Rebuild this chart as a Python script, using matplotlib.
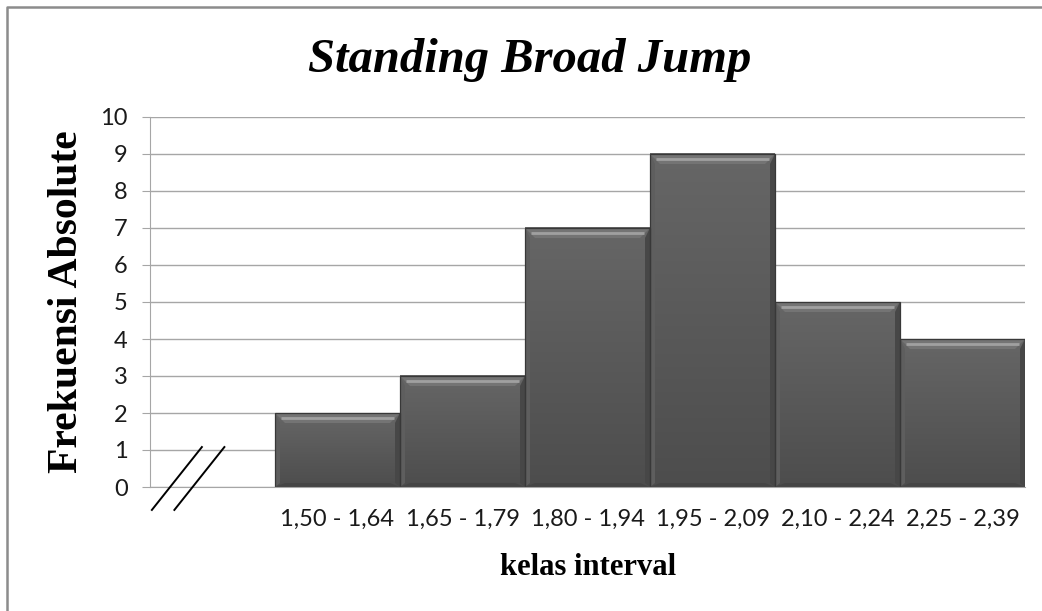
import numpy as np
import matplotlib.pyplot as plt
from matplotlib.patches import Polygon, Rectangle
from matplotlib.lines import Line2D
from matplotlib.colors import LinearSegmentedColormap

# data
intervals = ['1,50 - 1,64', '1,65 - 1,79', '1,80 - 1,94',
             '1,95 - 2,09', '2,10 - 2,24', '2,25 - 2,39']
frekuensi = [2, 3, 7, 9, 5, 4]
y_ticks = list(range(0, 11))

W, H = 1042, 611
fig = plt.figure(figsize=(W / 100, H / 100), dpi=100)
ax = fig.add_axes([150 / W, 124 / H, 875 / W, 370 / H])

pos = np.arange(1, len(intervals) + 1)
ax.set_xlim(-0.5, len(intervals) + 0.5)
ax.set_ylim(0, 10)

# pixel -> data units (for the bevel)
px_x = (len(intervals) + 1) / 875
px_y = 10 / 370
bev = 10

bars = ax.bar(pos, frekuensi, width=1.0, color='#5a5a5a', linewidth=0, zorder=2)

face = LinearSegmentedColormap.from_list('face', ['#4d4d4d', '#666666'])
grad = np.linspace(0, 1, 100).reshape(-1, 1)
for b in bars:
    x0, w, h = b.get_x(), b.get_width(), b.get_height()
    x1 = x0 + w
    dx, dy = bev * px_x, bev * px_y
    ax.imshow(grad, extent=(x0, x1, 0, h), origin='lower', aspect='auto',
              cmap=face, zorder=2.1, interpolation='bilinear')
    # bevel sides
    ax.add_patch(Polygon([(x0, h), (x1, h), (x1 - dx, h - dy), (x0 + dx, h - dy)],
                         closed=True, color='#747474', lw=0, zorder=2.2))
    ax.add_patch(Polygon([(x0, 0), (x1, 0), (x1 - dx, dy * 0.4), (x0 + dx, dy * 0.4)],
                         closed=True, color='#454545', lw=0, zorder=2.2))
    ax.add_patch(Polygon([(x0, 0), (x0, h), (x0 + dx * 0.5, h - dy), (x0 + dx * 0.5, dy * 0.4)],
                         closed=True, color='#5e5e5e', lw=0, zorder=2.2))
    ax.add_patch(Polygon([(x1, 0), (x1, h), (x1 - dx * 0.5, h - dy), (x1 - dx * 0.5, dy * 0.4)],
                         closed=True, color='#474747', lw=0, zorder=2.2))
    ax.plot([x0 + dx * 0.6, x1 - dx * 0.6], [h - dy * 0.5, h - dy * 0.5],
            color='#a0a0a0', lw=2.0, zorder=2.25, solid_capstyle='butt')
    ax.add_patch(Rectangle((x0, 0), w, h, fill=False, ec='#383838', lw=0.9, zorder=2.3))

# grid and axes
ax.set_yticks(y_ticks)
ax.set_xticks(pos)
ax.set_xticklabels(intervals, fontfamily='Lato', fontsize=17)
ax.set_yticklabels([str(t) for t in y_ticks], fontfamily='Lato', fontsize=17)
ax.yaxis.grid(True, color='#a6a6a6', lw=1)
ax.set_axisbelow(True)
for s in ['top', 'right']:
    ax.spines[s].set_visible(False)
ax.spines['left'].set_color('#a6a6a6')
ax.spines['bottom'].set_color('#a6a6a6')
ax.tick_params(axis='y', length=6, color='#a6a6a6', pad=10, labelcolor='#1a1a1a')
ax.tick_params(axis='x', length=0, pad=16, labelcolor='#1a1a1a')

# axis break mark in the empty first slot
for off in [0.0, 0.18]:
    ax.plot([-0.485 + off, -0.085 + off], [-0.62, 1.08], color='black', lw=1.4,
            clip_on=False, zorder=3)

# texts
fig.text(530 / W, 1 - 72 / H, 'Standing Broad Jump', ha='center', va='baseline',
         fontsize=35, fontfamily='Liberation Serif', fontweight='bold', fontstyle='italic')
fig.text(588 / W, 1 - 575 / H, 'kelas interval', ha='center', va='baseline',
         fontsize=22, fontfamily='Liberation Serif', fontweight='bold')
fig.text(67 / W, 1 - 302 / H, 'Frekuensi Absolute', ha='center', va='center', rotation=90,
         fontsize=30, fontfamily='Liberation Serif', fontweight='bold')

# chart frame (cut off at right and bottom)
fig.add_artist(Line2D([7 / W, 7 / W, 1], [0, 1 - 7 / H, 1 - 7 / H],
                      transform=fig.transFigure, color='#8c8c8c', lw=1.8))

fig.savefig('out.png', dpi=100)
